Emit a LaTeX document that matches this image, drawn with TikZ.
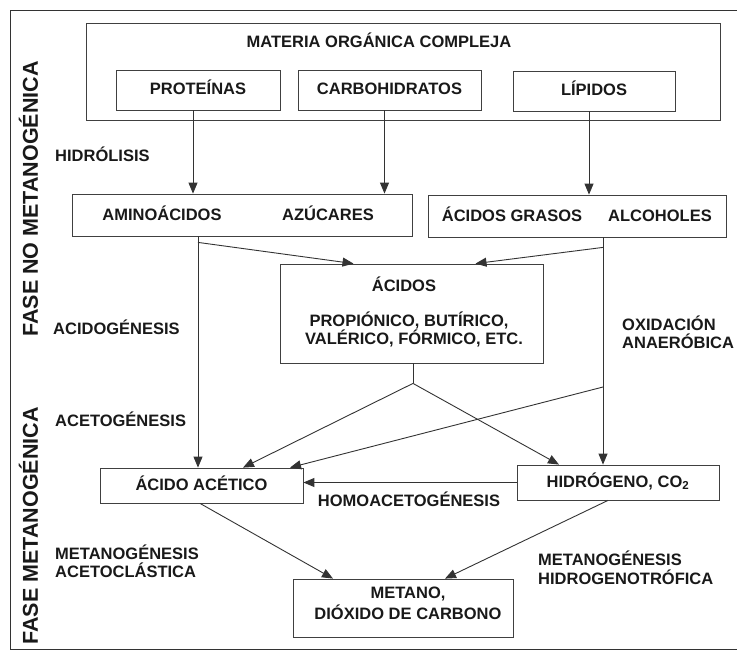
\documentclass[tikz,border=0pt]{standalone}
\usepackage{fontspec}
\setmainfont{Liberation Sans}
\usetikzlibrary{arrows.meta,calc}
\begin{document}
\begin{tikzpicture}[x=1bp,y=-1bp,
  every node/.style={font=\fontsize{16.5bp}{18bp}\selectfont\bfseries, text=black!90, inner sep=0pt, text height=12bp, text depth=3bp},
  box/.style={draw=black!75, line width=0.8bp, rectangle},
  lbl/.style={anchor=west, align=left},
  phase/.style={rotate=90, font=\fontsize{21.5bp}{24bp}\selectfont\bfseries, text height=15.5bp, text depth=0bp},
  conn/.style={draw=black!80, line width=0.9bp},
  arr/.style={conn, -{Triangle[length=11bp,width=9bp]}}]
\useasboundingbox (0,0) rectangle (737,657);
\draw[conn] (737,10) -- (10,10) -- (10,649) -- (737,649);
% phase labels
\node[phase] (fnm) at (30,199) {FASE NO METANOGÉNICA};
\node[phase] (fm) at (30,526) {FASE METANOGÉNICA};
% boxes
\node[box, minimum width=634bp, minimum height=97bp] (mo) at (403,71.5) {};
\node (motit) at (379,43) {MATERIA ORGÁNICA COMPLEJA};
\node[box, minimum width=164bp, minimum height=40bp] (prot) at (198,90) {PROTEÍNAS};
\node[box, minimum width=183bp, minimum height=40bp] (carb) at (389.5,90) {CARBOHIDRATOS};
\node[box, minimum width=162bp, minimum height=40bp] (lip) at (594,91) {LÍPIDOS};
\node[box, minimum width=340bp, minimum height=42bp] (aa) at (242,215) {};
\node (aat1) at (162,216) {AMINOÁCIDOS};
\node (aat2) at (328,216) {AZÚCARES};
\node[box, minimum width=298bp, minimum height=42bp] (ag) at (577,216) {};
\node (agt1) at (512,217) {ÁCIDOS GRASOS};
\node (agt2) at (660,217) {ALCOHOLES};
\node[box, minimum width=263bp, minimum height=99bp] (ac) at (411.5,313.5) {};
\node (act1) at (404,287) {ÁCIDOS};
\node (act2) at (409,322) {PROPIÓNICO, BUTÍRICO,};
\node (act3) at (414,340) {VALÉRICO, FÓRMICO, ETC.};
\node[box, minimum width=203bp, minimum height=35bp] (aceta) at (201.5,485.5) {ÁCIDO ACÉTICO};
\node[box, minimum width=202bp, minimum height=35bp] (h2) at (618,482.5) {HIDRÓGENO, CO\textsubscript{2}};
\node[box, minimum width=220bp, minimum height=58bp] (met) at (403,608) {};
\node (mett1) at (408,594) {METANO,};
\node (mett2) at (408,615) {DIÓXIDO DE CARBONO};
% labels
\node[lbl] (hid) at (55,157) {HIDRÓLISIS};
\node[lbl] (acid) at (53,330) {ACIDOGÉNESIS};
\node[lbl] (acet) at (55,422) {ACETOGÉNESIS};
\node[lbl] (oxi1) at (622,326) {OXIDACIÓN};
\node[lbl] (oxi2) at (622,344) {ANAERÓBICA};
\node (homo) at (409,502) {HOMOACETOGÉNESIS};
\node[lbl] (mac1) at (55,555) {METANOGÉNESIS};
\node[lbl] (mac2) at (55,573) {ACETOCLÁSTICA};
\node[lbl] (mhi1) at (538,561) {METANOGÉNESIS};
\node[lbl] (mhi2) at (538,580) {HIDROGENOTRÓFICA};
% connectors
\draw[arr] ([xshift=-5bp]prot.south) -- ([xshift=-5bp]prot.south |- aa.north);
\draw[arr] ([xshift=-5bp]carb.south) -- ([xshift=-5bp]carb.south |- aa.north);
\draw[arr] ([xshift=-5bp]lip.south) -- ([xshift=-5bp]lip.south |- ag.north);
\coordinate (aad) at ([xshift=-3.5bp]aceta.north |- aa.south);
\draw[arr] (aad) -- ([xshift=-3.5bp]aceta.north);
\coordinate (aab) at ($(aad)+(0,6)$);
\draw[arr] (aab) -- ([xshift=-58bp]ac.north);
\coordinate (agd) at ([xshift=26bp]ag.south);
\draw[arr] (agd) -- (agd |- h2.north);
\coordinate (agb) at ($(agd)+(0,10)$);
\draw[arr] (agb) -- ([xshift=64bp]ac.north);
\coordinate (br) at ($(ac.south)+(1.5,20)$);
\draw[conn] (ac.south -| br) -- (br);
\draw[arr] (br) -- ([xshift=41.5bp]aceta.north);
\draw[arr] (br) -- ([xshift=-59bp]h2.north);
\coordinate (ago) at (agd |- 0,387);
\draw[arr] (ago) -- ([xshift=88.5bp]aceta.north);
\draw[arr] (h2.west) -- (h2.west -| aceta.east);
\draw[arr] ([xshift=-1.5bp]aceta.south) -- ([xshift=-70bp]met.north);
\draw[arr] ([xshift=-10bp]h2.south) -- ([xshift=42bp]met.north);
\end{tikzpicture}
\end{document}
